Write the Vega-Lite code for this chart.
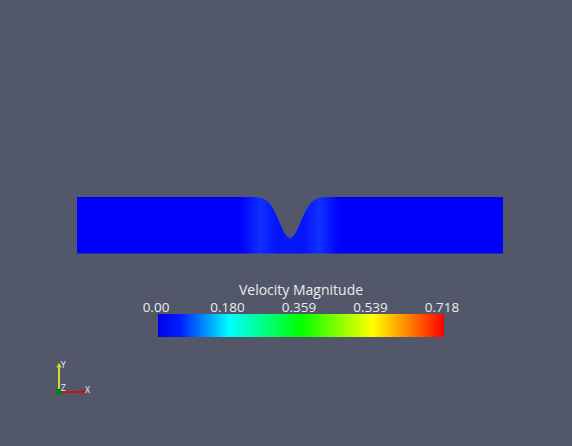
{
  "$schema": "https://vega.github.io/schema/vega-lite/v6.json",
  "width": 572,
  "height": 446,
  "autosize": {"type": "fit", "contains": "padding"},
  "padding": 0,
  "background": "#525769",
  "config": {"view": {"stroke": null}},
  "datasets": {
    "channel": [
      {"x": 0, "top": 1.326},
      {"x": 4.0, "top": 1.326},
      {"x": 4.2, "top": 1.320},
      {"x": 4.3, "top": 1.307},
      {"x": 4.4, "top": 1.272},
      {"x": 4.5, "top": 1.196},
      {"x": 4.55, "top": 1.136},
      {"x": 4.6, "top": 1.059},
      {"x": 4.65, "top": 0.965},
      {"x": 4.7, "top": 0.858},
      {"x": 4.75, "top": 0.742},
      {"x": 4.8, "top": 0.628},
      {"x": 4.85, "top": 0.523},
      {"x": 4.9, "top": 0.438},
      {"x": 4.95, "top": 0.383},
      {"x": 5.0, "top": 0.364},
      {"x": 5.05, "top": 0.383},
      {"x": 5.1, "top": 0.438},
      {"x": 5.15, "top": 0.523},
      {"x": 5.2, "top": 0.628},
      {"x": 5.25, "top": 0.742},
      {"x": 5.3, "top": 0.858},
      {"x": 5.35, "top": 0.965},
      {"x": 5.4, "top": 1.059},
      {"x": 5.45, "top": 1.136},
      {"x": 5.5, "top": 1.196},
      {"x": 5.6, "top": 1.272},
      {"x": 5.7, "top": 1.307},
      {"x": 5.8, "top": 1.320},
      {"x": 6.0, "top": 1.326},
      {"x": 10, "top": 1.326}
    ],
    "triad": [
      {"axis": "X", "x": -0.423, "y": -3.251, "x2": 0.19, "y2": -3.251},
      {"axis": "Y", "x": -0.423, "y": -3.251, "x2": -0.423, "y2": -2.60}
    ],
    "heads": [
      {"axis": "X", "x": 0.16, "y": -3.251, "shape": "triangle-right"},
      {"axis": "Y", "x": -0.423, "y": -2.62, "shape": "triangle-up"}
    ],
    "origin": [{"x": -0.423, "y": -3.251}],
    "triadLabels": [
      {"label": "Y", "x": -0.383, "y": -2.688},
      {"label": "Z", "x": -0.383, "y": -3.228},
      {"label": "X", "x": 0.188, "y": -3.275}
    ],
    "bar": [{"lo": 0, "hi": 0.718}],
    "ticks": [
      {"v": 0, "label": "0.00"},
      {"v": 0.1795, "label": "0.180"},
      {"v": 0.359, "label": "0.359"},
      {"v": 0.5385, "label": "0.539"},
      {"v": 0.718, "label": "0.718"}
    ],
    "title": [{"v": 0.359, "title": "Velocity Magnitude"}]
  },
  "resolve": {"scale": {"x": "independent"}},
  "layer": [
    {
      "layer": [
        {
          "data": {"name": "channel"},
          "mark": {
            "type": "area",
            "interpolate": "monotone",
            "fill": {
              "gradient": "linear",
              "x1": 0, "y1": 0, "x2": 1, "y2": 0,
              "stops": [
                {"offset": 0, "color": "#0000ff"},
                {"offset": 0.385, "color": "#0000ff"},
                {"offset": 0.43, "color": "#1030ff"},
                {"offset": 0.47, "color": "#0512fd"},
                {"offset": 0.5, "color": "#0818f8"},
                {"offset": 0.53, "color": "#0512fd"},
                {"offset": 0.57, "color": "#1030ff"},
                {"offset": 0.615, "color": "#0000ff"},
                {"offset": 1, "color": "#0000ff"}
              ]
            },
            "stroke": null
          },
          "encoding": {
            "x": {"field": "x", "type": "quantitative", "scale": {"domain": [-1.808, 11.62], "nice": false, "zero": false}, "axis": null},
            "y": {"field": "top", "type": "quantitative", "scale": {"domain": [-4.519, 5.951], "nice": false, "zero": false}, "axis": null},
            "y2": {"datum": 0}
          }
        },
        {
          "data": {"name": "triad"},
          "mark": {"type": "rule", "strokeWidth": 2},
          "encoding": {
            "x": {"field": "x", "type": "quantitative", "scale": {"domain": [-1.808, 11.62], "nice": false, "zero": false}, "axis": null},
            "y": {"field": "y", "type": "quantitative", "scale": {"domain": [-4.519, 5.951], "nice": false, "zero": false}, "axis": null},
            "x2": {"field": "x2"},
            "y2": {"field": "y2"},
            "color": {"field": "axis", "type": "nominal", "scale": {"domain": ["X", "Y"], "range": ["#c81414", "#d8d834"]}, "legend": null}
          }
        },
        {
          "data": {"name": "heads"},
          "mark": {"type": "point", "filled": true, "size": 28, "opacity": 1},
          "encoding": {
            "x": {"field": "x", "type": "quantitative", "scale": {"domain": [-1.808, 11.62], "nice": false, "zero": false}, "axis": null},
            "y": {"field": "y", "type": "quantitative", "scale": {"domain": [-4.519, 5.951], "nice": false, "zero": false}, "axis": null},
            "shape": {"field": "shape", "type": "nominal", "scale": null},
            "color": {"field": "axis", "type": "nominal", "scale": {"domain": ["X", "Y"], "range": ["#c81414", "#d8d834"]}, "legend": null}
          }
        },
        {
          "data": {"name": "origin"},
          "mark": {"type": "point", "filled": true, "size": 45, "color": "#0a7a1e", "opacity": 1},
          "encoding": {
            "x": {"field": "x", "type": "quantitative", "scale": {"domain": [-1.808, 11.62], "nice": false, "zero": false}, "axis": null},
            "y": {"field": "y", "type": "quantitative", "scale": {"domain": [-4.519, 5.951], "nice": false, "zero": false}, "axis": null}
          }
        },
        {
          "data": {"name": "triadLabels"},
          "mark": {"type": "text", "align": "left", "baseline": "alphabetic", "font": "Open Sans", "fontSize": 9, "color": "#f0f0f0"},
          "encoding": {
            "x": {"field": "x", "type": "quantitative", "scale": {"domain": [-1.808, 11.62], "nice": false, "zero": false}, "axis": null},
            "y": {"field": "y", "type": "quantitative", "scale": {"domain": [-4.519, 5.951], "nice": false, "zero": false}, "axis": null},
            "text": {"field": "label"}
          }
        }
      ]
    },
    {
      "layer": [
        {
          "data": {"name": "bar"},
          "mark": {
            "type": "rect",
            "fill": {
              "gradient": "linear",
              "x1": 0, "y1": 0, "x2": 1, "y2": 0,
              "stops": [
                {"offset": 0, "color": "#0000e6"},
                {"offset": 0.08, "color": "#0020ff"},
                {"offset": 0.25, "color": "#00ffff"},
                {"offset": 0.5, "color": "#00ff00"},
                {"offset": 0.75, "color": "#ffff00"},
                {"offset": 0.87, "color": "#ff8800"},
                {"offset": 1, "color": "#ff0000"}
              ]
            }
          },
          "encoding": {
            "x": {"field": "lo", "type": "quantitative", "scale": {"domain": [-0.3967, 1.0394], "nice": false, "zero": false}, "axis": null},
            "x2": {"field": "hi"},
            "y": {"datum": -1.420, "type": "quantitative", "scale": {"domain": [-4.519, 5.951], "nice": false, "zero": false}, "axis": null},
            "y2": {"datum": -1.960}
          }
        },
        {
          "data": {"name": "ticks"},
          "mark": {"type": "text", "align": "center", "baseline": "alphabetic", "dx": -2, "font": "Open Sans", "fontSize": 13.5, "color": "#ececec"},
          "encoding": {
            "x": {"field": "v", "type": "quantitative", "scale": {"domain": [-0.3967, 1.0394], "nice": false, "zero": false}, "axis": null},
            "y": {"datum": -1.385, "type": "quantitative", "scale": {"domain": [-4.519, 5.951], "nice": false, "zero": false}, "axis": null},
            "text": {"field": "label"}
          }
        },
        {
          "data": {"name": "title"},
          "mark": {"type": "text", "align": "center", "baseline": "alphabetic", "font": "Open Sans", "fontSize": 14, "color": "#ececec"},
          "encoding": {
            "x": {"field": "v", "type": "quantitative", "scale": {"domain": [-0.3967, 1.0394], "nice": false, "zero": false}, "axis": null},
            "y": {"datum": -0.963, "type": "quantitative", "scale": {"domain": [-4.519, 5.951], "nice": false, "zero": false}, "axis": null},
            "text": {"field": "title"}
          }
        }
      ]
    }
  ]
}
